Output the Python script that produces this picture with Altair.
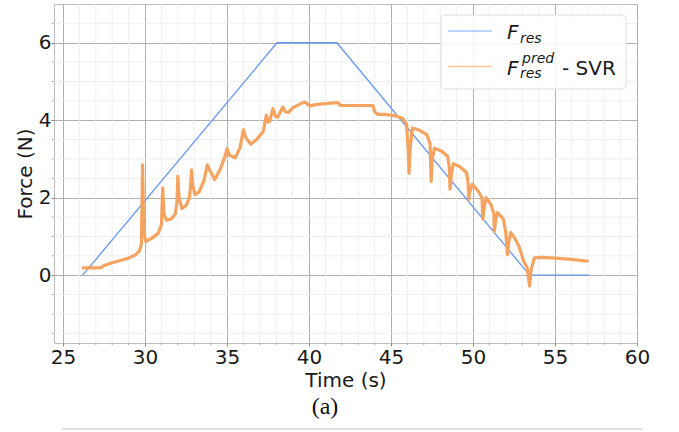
import altair as alt
import pandas as pd

# ---------------- data ----------------
t_ref = [26.2, 38.05, 41.7, 53.45, 57.1]
f_ref = [0.0, 6.0, 6.0, 0.0, 0.0]

t_pred = [26.15, 27.3, 27.5, 28.0, 28.5, 29.0, 29.4, 29.65, 29.78, 29.85, 29.92, 30.05,
          30.4, 30.8, 31.0, 31.08, 31.15, 31.3, 31.6, 31.85, 31.95, 32.0, 32.08, 32.25,
          32.5, 32.7, 32.78, 32.83, 32.92, 33.05, 33.3, 33.6, 33.8, 33.95, 34.25, 34.6,
          34.9, 35.0, 35.15, 35.5, 35.8, 36.0, 36.15, 36.45, 36.8, 37.2, 37.4, 37.5,
          37.6, 37.8, 37.95, 38.1, 38.4, 38.55, 38.75, 39.0, 39.5, 39.75, 40.05, 40.5,
          41.0, 41.5, 41.8, 41.9, 43.9, 44.0, 44.2, 44.6, 45.2, 45.7, 45.95, 46.05,
          46.1, 46.17, 46.3, 46.7, 47.2, 47.38, 47.45, 47.52, 47.65, 48.1, 48.45, 48.55,
          48.6, 48.68, 48.8, 49.2, 49.6, 49.7, 49.74, 49.8, 49.95, 50.3, 50.55, 50.6,
          50.68, 50.8, 51.1, 51.27, 51.3, 51.38, 51.5, 51.85, 52.0, 52.1, 52.18, 52.3,
          52.55, 52.8, 53.1, 53.3, 53.45, 53.55, 53.75, 54.2, 55.0, 56.0, 57.05]
f_pred = [0.19, 0.19, 0.25, 0.32, 0.38, 0.44, 0.52, 0.62, 0.8, 2.85, 1.1, 0.87,
          0.95, 1.08, 1.3, 2.25, 1.6, 1.42, 1.45, 1.58, 1.9, 2.55, 2.0, 1.72,
          1.8, 1.98, 2.3, 2.72, 2.3, 2.08, 2.15, 2.45, 2.85, 2.7, 2.47, 2.75,
          3.1, 3.27, 3.1, 3.03, 3.3, 3.75, 3.55, 3.38, 3.5, 3.7, 4.13, 3.95,
          3.97, 4.3, 4.1, 4.08, 4.34, 4.22, 4.2, 4.32, 4.43, 4.47, 4.37, 4.41,
          4.43, 4.45, 4.45, 4.38, 4.38, 4.22, 4.15, 4.15, 4.12, 4.05, 3.9, 3.2,
          2.63, 3.3, 3.8, 3.75, 3.62, 3.4, 2.42, 3.0, 3.28, 3.2, 3.07, 2.8,
          2.22, 2.6, 2.88, 2.8, 2.65, 2.4, 1.95, 2.15, 2.35, 2.18, 2.0, 1.45,
          1.75, 2.0, 1.82, 1.6, 1.13, 1.4, 1.62, 1.45, 1.1, 0.53, 0.85, 1.1,
          0.95, 0.75, 0.35, 0.2, -0.28, 0.15, 0.45, 0.46, 0.44, 0.41, 0.36]

x_major = [25, 30, 35, 40, 45, 50, 55, 60]
y_major = [0, 2, 4, 6]
x_minor = [26, 27, 28, 29, 31, 32, 33, 34, 36, 37, 38, 39, 41, 42, 43, 44,
           46, 47, 48, 49, 51, 52, 53, 54, 56, 57, 58, 59]
y_minor = [-1.5, -1.0, -0.5, 0.5, 1.0, 1.5, 2.5, 3.0, 3.5, 4.5, 5.0, 5.5, 6.5]

legend_main = ["F", "F"]
legend_sub = ["res", "res"]
legend_sup = ["pred"]
legend_suffix = ["- SVR"]
caption = ["(a)"]

X_DOMAIN = [24.45, 60]
Y_DOMAIN = [-1.75, 7]

W, H = 583, 339
FONT = "DejaVu Sans"
BLUE = "#6797ee"
ORANGE = "#f4a460"

xs = alt.Scale(domain=X_DOMAIN, nice=False, zero=False)
ys = alt.Scale(domain=Y_DOMAIN, nice=False, zero=False)

ax_x = alt.Axis(values=x_major, title="Time (s)", format="d",
                labelFont=FONT, titleFont=FONT, labelFontSize=20, titleFontSize=20,
                titleFontWeight="normal", labelColor="#1a1a1a", titleColor="#1a1a1a",
                grid=True, gridColor="#b0b0b0", gridWidth=1, domain=False,
                labelFlush=False, labelOverlap=False,
                tickSize=3, tickColor="#888888", labelPadding=1.5, titlePadding=3)
ax_y = alt.Axis(values=y_major, title="Force (N)", format="d",
                labelFont=FONT, titleFont=FONT, labelFontSize=20, titleFontSize=20,
                titleFontWeight="normal", labelColor="#1a1a1a", titleColor="#1a1a1a",
                grid=True, gridColor="#b0b0b0", gridWidth=1, domain=False,
                labelFlush=False, labelOverlap=False,
                tickSize=3, tickColor="#888888", labelPadding=0, titlePadding=3)

df_ref = pd.DataFrame({"t": t_ref, "f": f_ref})
df_pred = pd.DataFrame({"t": t_pred, "f": f_pred})
df_xm = pd.DataFrame({"t": x_minor})
df_ym = pd.DataFrame({"f": y_minor})

minor_x = alt.Chart(df_xm).mark_rule(color="#ebebeb", strokeWidth=0.8).encode(
    x=alt.X("t:Q", scale=xs, axis=ax_x))
minor_y = alt.Chart(df_ym).mark_rule(color="#ebebeb", strokeWidth=0.8).encode(
    y=alt.Y("f:Q", scale=ys, axis=ax_y))
minor_xt = alt.Chart(df_xm).mark_rule(color="#999999", strokeWidth=0.8).encode(
    x=alt.X("t:Q", scale=xs, axis=ax_x), y=alt.value(H), y2=alt.value(H + 2.2))
minor_yt = alt.Chart(df_ym).mark_rule(color="#999999", strokeWidth=0.8).encode(
    y=alt.Y("f:Q", scale=ys, axis=ax_y), x=alt.value(0), x2=alt.value(-2.2))

ref_line = alt.Chart(df_ref).mark_line(color=BLUE, strokeWidth=1.3).encode(
    x=alt.X("t:Q", scale=xs, axis=ax_x), y=alt.Y("f:Q", scale=ys, axis=ax_y),
    order="t:Q")
pred_line = alt.Chart(df_pred).mark_line(color=ORANGE, strokeWidth=3.2,
                                         strokeJoin="round").encode(
    x=alt.X("t:Q", scale=xs, axis=ax_x), y=alt.Y("f:Q", scale=ys, axis=ax_y),
    order="t:Q")

# ---- legend ----
leg_box = alt.Chart(pd.DataFrame({"a": [0]})).mark_rect(
    fill="white", fillOpacity=0.85, stroke="#dddddd", strokeWidth=1, cornerRadius=4).encode(
    x=alt.value(387), x2=alt.value(572), y=alt.value(11), y2=alt.value(85))
leg_blue = alt.Chart(pd.DataFrame({"a": [0]})).mark_rule(
    color="#a8c4f4", strokeWidth=1.5).encode(
    x=alt.value(394), x2=alt.value(438), y=alt.value(27))
leg_orange = alt.Chart(pd.DataFrame({"a": [0]})).mark_rule(
    color="#f8c79c", strokeWidth=1.5).encode(
    x=alt.value(394), x2=alt.value(438), y=alt.value(62.5))

def txt(label, x, y, size, style="normal", align="left", font=FONT):
    return alt.Chart(pd.DataFrame({"s": [label]})).mark_text(
        font=font, fontSize=size, fontStyle=style, align=align,
        baseline="alphabetic", color="#1a1a1a").encode(
        text="s:N", x=alt.value(x), y=alt.value(y))

leg_texts = [
    txt(legend_main[0], 453, 35, 20, "italic"),
    txt(legend_sub[0], 466, 39, 14, "italic"),
    txt(legend_main[1], 453, 70.5, 20, "italic"),
    txt(legend_sup[0], 468, 58.5, 14, "italic"),
    txt(legend_sub[1], 466, 74, 14, "italic"),
    txt(legend_suffix[0], 508, 71, 20),
]

cap = alt.Chart(pd.DataFrame({"s": caption})).mark_text(
    font="Liberation Serif", fontSize=24, align="center", baseline="middle",
    color="#111111").encode(text="s:N", x=alt.value(271), y=alt.value(403))

bottom_line = alt.Chart(pd.DataFrame({"a": [0]})).mark_rule(
    color="#c4c4c4", strokeWidth=1).encode(
    x=alt.value(8), x2=alt.value(589), y=alt.value(425))

chart = alt.layer(
    minor_x, minor_y, minor_xt, minor_yt, ref_line, pred_line,
    leg_box, leg_blue, leg_orange, *leg_texts, cap, bottom_line
).properties(
    width=W, height=H,
    autosize="none",
    padding={"left": 54, "top": 4, "right": 42, "bottom": 89},
    background="white",
).configure_view(stroke="#bdbdbd", strokeWidth=1)

chart.save("out.html", embed_options={"renderer": "svg", "actions": False})
